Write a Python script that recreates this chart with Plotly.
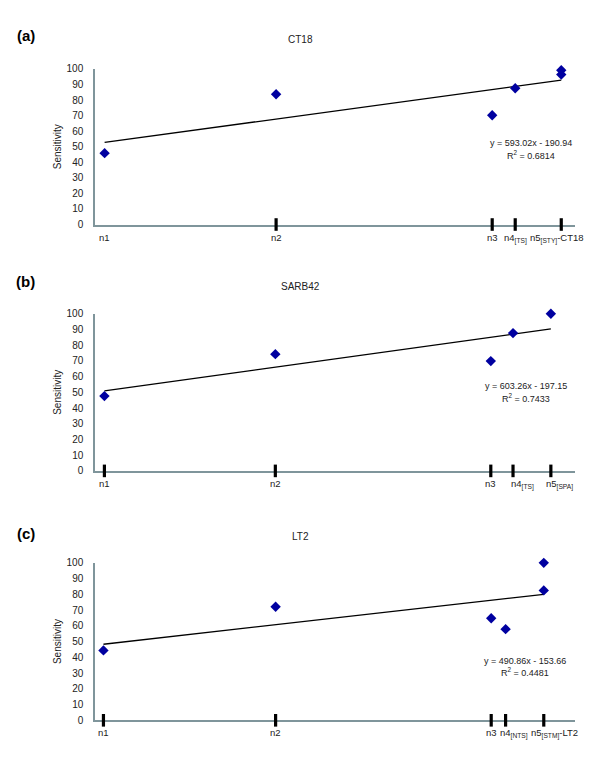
import plotly.graph_objects as go

# ---------------- data ----------------
titles = ["CT18", "SARB42", "LT2"]
panel_labels = ["(a)", "(b)", "(c)"]

# panel (a) CT18
x_a = [0.41102, 0.43635, 0.46827, 0.47167, 0.47847, 0.47847]
y_a = [45.9, 83.8, 70.3, 87.6, 99.2, 96.4]
ticks_a = [0.43635, 0.46827, 0.47167, 0.47847]
tick_pos_a = [0.41102, 0.43635, 0.46827, 0.47167, 0.47847]
tick_text_a = ["n1", "n2", "n3", "n4<sub>[TS]</sub>", "n5<sub>[STY]</sub>-CT18"]
slope_a, intercept_a, r2_a = 593.02, -190.94, 0.6814

# panel (b) SARB42
x_b = [0.41118, 0.43625, 0.46785, 0.47111, 0.47666]
y_b = [47.6, 74.3, 69.9, 87.7, 100.0]
ticks_b = [0.41118, 0.43625, 0.46785, 0.47111, 0.47666]
tick_pos_b = [0.41118, 0.43625, 0.46785, 0.47111, 0.47666]
tick_text_b = ["n1", "n2", "n3", "n4<sub>[TS]</sub>", "n5<sub>[SPA]</sub>"]
slope_b, intercept_b, r2_b = 603.26, -197.15, 0.7433

# panel (c) LT2
x_c = [0.41144, 0.43669, 0.46831, 0.47042, 0.47602, 0.47602]
y_c = [44.4, 72.1, 64.8, 57.9, 82.5, 100.0]
ticks_c = [0.41144, 0.43669, 0.46831, 0.47042, 0.47602]
tick_pos_c = [0.41144, 0.43669, 0.46831, 0.47042, 0.47602]
tick_text_c = ["n1", "n2", "n3", "n4<sub>[NTS]</sub>", "n5<sub>[STM]</sub>-LT2"]
slope_c, intercept_c, r2_c = 490.86, -153.66, 0.4481

y_ticks = [0, 10, 20, 30, 40, 50, 60, 70, 80, 90, 100]

# ---------------- layout / style ----------------
W, H = 600, 765
FONT = "Liberation Sans, Arial, Helvetica, sans-serif"
AXIS_COLOR = "#7f959b"
MARKER_COLOR = "#0000a0"

panels = [
    dict(x=x_a, y=y_a, ticks=ticks_a, tpos=tick_pos_a, ttext=tick_text_a,
         m=slope_a, b=intercept_a, r2=r2_a, xr=[0.4096, 0.4805],
         top=64, bottom=222, label_y=29.5, title_y=34, eq_x=531, eq_y=139, r_y=151,
         loff=[0, 0, 0, 0, -4]),
    dict(x=x_b, y=y_b, ticks=ticks_b, tpos=tick_pos_b, ttext=tick_text_b,
         m=slope_b, b=intercept_b, r2=r2_b, xr=[0.4098, 0.4802],
         top=312.7, bottom=472.3, label_y=280, title_y=285, eq_x=526, eq_y=386, r_y=398,
         loff=[0, 0, 0, 9, 9]),
    dict(x=x_c, y=y_c, ticks=ticks_c, tpos=tick_pos_c, ttext=tick_text_c,
         m=slope_c, b=intercept_c, r2=r2_c, xr=[0.4102, 0.4806],
         top=565.7, bottom=725.7, label_y=536, title_y=539, eq_x=525, eq_y=665, r_y=677,
         loff=[0, 0, 0, 8, 11]),
]

fig = go.Figure()
annotations = []
layout_axes = {}

for i, p in enumerate(panels):
    sfx = "" if i == 0 else str(i + 1)
    xa, ya = "x" + sfx, "y" + sfx

    # linear trend line from the fitted equation
    x0, x1 = min(p["x"]), max(p["x"])
    fig.add_trace(go.Scatter(
        x=[x0, x1], y=[p["m"] * x0 + p["b"], p["m"] * x1 + p["b"]],
        mode="lines", line=dict(color="black", width=1.3),
        xaxis=xa, yaxis=ya, showlegend=False, hoverinfo="skip"))
    # tick marks crossing the x axis
    fig.add_trace(go.Scatter(
        x=p["ticks"], y=[0] * len(p["ticks"]), mode="markers",
        marker=dict(symbol="line-ns", size=9, line=dict(width=3.2, color="black")),
        xaxis=xa, yaxis=ya, showlegend=False, cliponaxis=False, hoverinfo="skip"))
    # data points
    fig.add_trace(go.Scatter(
        x=p["x"], y=p["y"], mode="markers",
        marker=dict(symbol="diamond", size=8, color=MARKER_COLOR),
        xaxis=xa, yaxis=ya, showlegend=False, cliponaxis=False))

    dom_y = [1 - p["bottom"] / H, 1 - p["top"] / H]
    layout_axes["xaxis" + sfx] = dict(
        domain=[95 / W, 575 / W], range=p["xr"], anchor=ya,
        showline=True, linecolor=AXIS_COLOR, linewidth=1.5,
        showgrid=False, zeroline=False, showticklabels=False, ticks="",
        layer="below traces")
    layout_axes["yaxis" + sfx] = dict(
        domain=dom_y, range=[0, 100], anchor=xa,
        tickvals=y_ticks, ticks="", ticklabelstandoff=8,
        showline=True, linecolor=AXIS_COLOR, linewidth=1.5,
        showgrid=False, zeroline=False,
        tickfont=dict(family=FONT, size=10, color="#222"),
        layer="below traces")

    # x category labels
    for xv, txt, off in zip(p["tpos"], p["ttext"], p["loff"]):
        annotations.append(dict(
            x=xv, y=0, xref=xa, yref=ya + " domain", text=txt, showarrow=False,
            xanchor="center", yanchor="top", yshift=-5, xshift=off,
            font=dict(family=FONT, size=9.5, color="#222")))

    annotations.append(dict(
        x=25.5 / W, y=1 - p["label_y"] / H, xref="paper", yref="paper",
        text="<b>" + panel_labels[i] + "</b>", showarrow=False,
        xanchor="center", yanchor="middle",
        font=dict(family=FONT, size=15, color="black")))
    annotations.append(dict(
        x=300 / W, y=1 - p["title_y"] / H, xref="paper", yref="paper",
        text=titles[i], showarrow=False, xanchor="center", yanchor="middle",
        font=dict(family=FONT, size=10, color="#222")))
    annotations.append(dict(
        x=57.5 / W, y=1 - (p["top"] + p["bottom"]) / 2 / H, xref="paper", yref="paper",
        text="Sensitivity", textangle=-90, showarrow=False,
        xanchor="center", yanchor="middle",
        font=dict(family=FONT, size=10, color="#222")))
    sign = "-" if p["b"] < 0 else "+"
    annotations.append(dict(
        x=p["eq_x"] / W, y=1 - p["eq_y"] / H, xref="paper", yref="paper",
        text=f"y = {p['m']:.2f}x {sign} {abs(p['b']):.2f}", showarrow=False,
        xanchor="center", yanchor="middle",
        font=dict(family=FONT, size=9, color="#222")))
    annotations.append(dict(
        x=p["eq_x"] / W, y=1 - p["r_y"] / H, xref="paper", yref="paper",
        text=f"R<sup>2</sup> = {p['r2']:.4f}", showarrow=False,
        xanchor="center", yanchor="middle",
        font=dict(family=FONT, size=9, color="#222")))

fig.update_layout(
    width=W, height=H,
    margin=dict(l=0, r=0, t=0, b=0),
    paper_bgcolor="white", plot_bgcolor="white",
    font=dict(family=FONT, size=10, color="#222"),
    annotations=annotations,
    showlegend=False,
    **layout_axes,
)

fig.write_html(
    "out.html",
    config={"displayModeBar": False},
    post_script="document.body.style.margin='0';document.body.style.padding='0';"
                "document.body.style.overflow='hidden';",
)
